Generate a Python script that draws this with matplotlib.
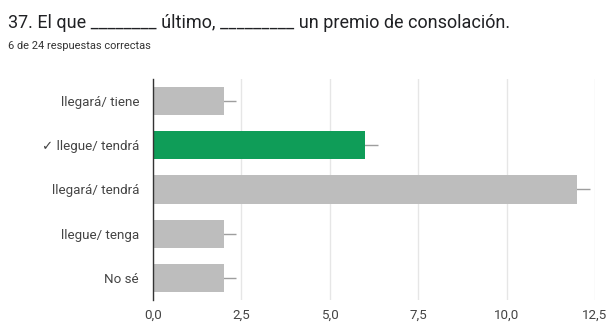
import matplotlib.pyplot as plt
import numpy as np

# Respuestas a la pregunta 37
labels = ["llegará/ tiene", "\u2713 llegue/ tendrá", "llegará/ tendrá", "llegue/ tenga", "No sé"]
counts = [2, 6, 12, 2, 2]
colors = ["#bdbdbd", "#0f9d58", "#bdbdbd", "#bdbdbd", "#bdbdbd"]
ticks = [0, 2.5, 5, 7.5, 10, 12.5]
tick_labels = ["0,0", "2,5", "5,0", "7,5", "10,0", "12,5"]

plt.rcParams['font.family'] = ['Roboto', 'DejaVu Sans']

fig = plt.figure(figsize=(6.09, 3.23), dpi=100)
ax = fig.add_axes([153 / 609, 1 - 300 / 323, (595 - 153) / 609, (300 - 79) / 323])

y = np.arange(len(labels))
ax.barh(y, counts, height=0.64, color=colors, zorder=2)
ax.errorbar(counts, y, xerr=0.35, fmt='none', ecolor='#9e9e9e', elinewidth=1,
            capsize=0, zorder=1)

ax.set_ylim(len(labels) - 0.5, -0.5)
ax.set_xlim(0, 12.5)
ax.set_yticks(y)
ax.set_yticklabels(labels, fontsize=9.6, color='#444444')
ax.set_xticks(ticks)
ax.set_xticklabels(tick_labels, fontsize=9.6, color='#444444')
ax.tick_params(length=0, pad=10)
ax.tick_params(axis='x', pad=6)
ax.grid(axis='x', color='#e6e6e6', linewidth=1, zorder=0)
for s in ['top', 'right', 'bottom']:
    ax.spines[s].set_visible(False)
ax.spines['left'].set_color('#333333')
ax.spines['left'].set_linewidth(1)

fig.text(8 / 609, 1 - 23 / 323, "37. El que ________ último, _________ un premio de consolación.",
         fontsize=13, color='#202124', va='center')
fig.text(8 / 609, 1 - 46 / 323, "6 de 24 respuestas correctas",
         fontsize=7.9, color='#333333', va='center')

fig.savefig("out.png", dpi=100)
